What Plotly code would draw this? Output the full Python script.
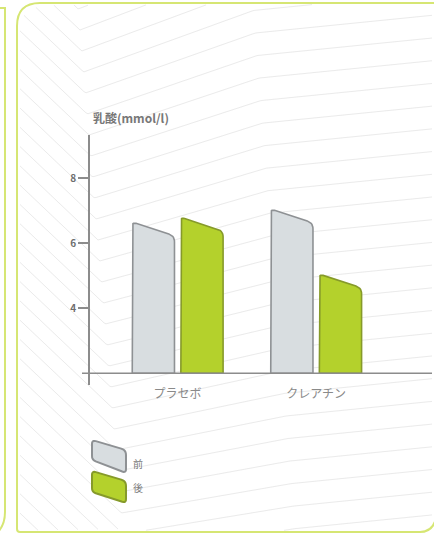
import numpy as np
import plotly.graph_objects as go

# ---- data ----
categories = ["プラセボ", "クレアチン"]
series_names = ["前", "後"]
before_values = [6.65, 7.05]
after_values = [6.8, 5.05]
y_tick_values = [4, 6, 8]
y_axis_title = "乳酸(mmol/l)"

# ---- geometry / style ----
W, H = 434, 535
PX0, PX1 = 90, 432          # plot area, pixels (left, right)
PY0, PY1 = 135, 385         # plot area, pixels (top, bottom)
X_RANGE = [-0.632, 1.8375]
Y_RANGE = [1.64, 9.33]
BASE = 2.0                  # bars stand on this level
SLANT = 0.42                # drop of the slanted bar top (y units)
BAR_OFFSETS = [(-0.327, -0.022), (0.024, 0.329)]

FONT = "Noto Sans CJK JP"
AXIS_GREY = "#8c8c8c"
FILLS = ["#d8dde0", "#b4d12c"]
EDGES = ["#8e9194", "#869a2a"]
CARD_EDGE = "#d6e673"
PATTERN = "#ebebeb"

sx = (PX1 - PX0) / (X_RANGE[1] - X_RANGE[0])   # px per x unit
sy = (PY1 - PY0) / (Y_RANGE[1] - Y_RANGE[0])   # px per y unit


def fx(px):
    return px / W


def fy(py):
    return 1 - py / H


def rounded(pts, radii, n=8):
    """Round the corners of a closed polygon given in pixel-like space."""
    out = []
    m = len(pts)
    for i in range(m):
        p = np.array(pts[i], float)
        r = radii[i]
        if r <= 0:
            out.append(p)
            continue
        a = np.array(pts[i - 1], float)
        b = np.array(pts[(i + 1) % m], float)
        u = (a - p) / np.linalg.norm(a - p)
        v = (b - p) / np.linalg.norm(b - p)
        p_in, p_out = p + u * r, p + v * r
        for t in np.linspace(0, 1, n):
            out.append((1 - t) ** 2 * p_in + 2 * (1 - t) * t * p + t ** 2 * p_out)
    out.append(out[0])
    return out


def bar_polygon(xc, offs, value):
    x0, x1 = xc + offs[0], xc + offs[1]
    corners = [(x0, BASE), (x0, value), (x1, value - SLANT), (x1, BASE)]
    # work in pixel-scaled coordinates so that corner radii are isotropic
    pix = [(x * sx, -y * sy) for x, y in corners]
    pts = rounded(pix, [0, 4, 6, 0])
    return [p[0] / sx for p in pts], [-p[1] / sy for p in pts]


fig = go.Figure()

for s, vals in enumerate([before_values, after_values]):
    for ci, v in enumerate(vals):
        xs, ys = bar_polygon(ci, BAR_OFFSETS[s], v)
        fig.add_trace(go.Scatter(
            x=xs, y=ys, mode="lines", fill="toself",
            fillcolor=FILLS[s], line=dict(color=EDGES[s], width=1.6),
            name=series_names[s], showlegend=False, hoverinfo="skip",
        ))

shapes = []

# ---- faint contour-line backdrop inside the card ----
def inside(x, y):
    if x < 18.5 or x > 433 or y < 4.5 or y > 530.5:
        return False
    if x < 40 and y < 26 and np.hypot(x - 40, y - 26) > 21:
        return False
    return True


for k in range(-5, 31):
    yv = 30 + 21 * k
    xv = 80 + 1.8 * k
    s1 = min(-0.12, -0.38 + 0.009 * k)
    xs = np.arange(0, 436, 2.0)
    ys = np.where(xs < xv, yv - 0.95 * (xv - xs),
                  np.where(xs < xv + 170, yv + s1 * (xs - xv),
                           yv + s1 * 170 - 0.1 * (xs - xv - 170)))
    runs, cur = [], []
    for x, y in zip(xs, ys):
        if inside(x, y):
            cur.append((x, y))
        elif cur:
            runs.append(cur)
            cur = []
    if cur:
        runs.append(cur)
    for run in runs:
        if len(run) < 2:
            continue
        path = "M " + " L ".join(f"{fx(x):.4f},{fy(y):.4f}" for x, y in run)
        shapes.append(dict(type="path", path=path, xref="paper", yref="paper",
                           line=dict(color=PATTERN, width=1), layer="below"))


def px_path(cmds):
    out = []
    for c in cmds:
        if isinstance(c, str):
            out.append(c)
        else:
            out.append(f"{fx(c[0]):.4f},{fy(c[1]):.4f}")
    return " ".join(out)


# left neighbouring panel edge
shapes.append(dict(type="path", xref="paper", yref="paper", layer="below",
                   path=px_path(["M", (-4, 8), "L", (5, 8), "L", (5, 512),
                                 "Q", (5, 526), (-4, 534)]),
                   line=dict(color=CARD_EDGE, width=2)))
# card outline
shapes.append(dict(type="path", xref="paper", yref="paper", layer="below",
                   path=px_path(["M", (445, 3), "L", (40, 3), "Q", (17, 3), (17, 26),
                                 "L", (17, 529), "Q", (17, 532), (20, 532),
                                 "L", (420, 532), "Q", (433, 532), (436, 518)]),
                   line=dict(color=CARD_EDGE, width=2)))

# horizontal axis line at the bar base, running across the y axis
shapes.append(dict(type="line", xref="paper", yref="y", x0=fx(82), x1=fx(432),
                   y0=BASE, y1=BASE, line=dict(color=AXIS_GREY, width=1.6)))

# legend swatches (slanted, rounded like the bars)
legend_boxes = [(440, 450, 473, 460), (471, 481, 503, 492)]
for s, (tl, tr, br, bl) in enumerate(legend_boxes):
    pts = rounded([(92, tl), (126, tr), (126, br), (92, bl)], [4, 5, 4, 4], n=6)
    path = "M " + " L ".join(f"{fx(p[0]):.4f},{fy(p[1]):.4f}" for p in pts) + " Z"
    shapes.append(dict(type="path", path=path, xref="paper", yref="paper",
                       fillcolor=FILLS[s], line=dict(color=EDGES[s], width=2)))

annotations = [
    dict(text=y_axis_title, x=fx(91), y=fy(118), xref="paper", yref="paper",
         xanchor="left", yanchor="middle", showarrow=False,
         font=dict(family=FONT, size=12, color="#777777", weight=600)),
]
for s, ypix in enumerate([463, 488]):
    annotations.append(dict(text=series_names[s], x=fx(131), y=fy(ypix),
                            xref="paper", yref="paper", xanchor="left",
                            yanchor="middle", showarrow=False,
                            font=dict(family=FONT, size=10, color="#7a7a7a")))

fig.update_layout(
    width=W, height=H,
    margin=dict(l=0, r=0, t=0, b=0),
    paper_bgcolor="white", plot_bgcolor="rgba(0,0,0,0)",
    showlegend=False,
    shapes=shapes, annotations=annotations,
    font=dict(family=FONT, color="#777777"),
    xaxis=dict(domain=[fx(PX0), fx(PX1)], range=X_RANGE, showgrid=False,
               zeroline=False, showline=False, ticks="",
               tickvals=list(range(len(categories))), ticktext=categories,
               tickfont=dict(family=FONT, size=12, color="#8a8a8a"),
               automargin=False, fixedrange=True),
    yaxis=dict(domain=[fy(PY1), fy(PY0)], range=Y_RANGE, showgrid=False,
               zeroline=False, showline=True, linecolor=AXIS_GREY, linewidth=1.6,
               ticks="outside", ticklen=10, tickwidth=1.6, tickcolor=AXIS_GREY,
               tickvals=y_tick_values,
               tickfont=dict(family=FONT, size=10, color="#6e6e6e", weight=600),
               automargin=False, fixedrange=True),
)

fig.write_html("out.html")
